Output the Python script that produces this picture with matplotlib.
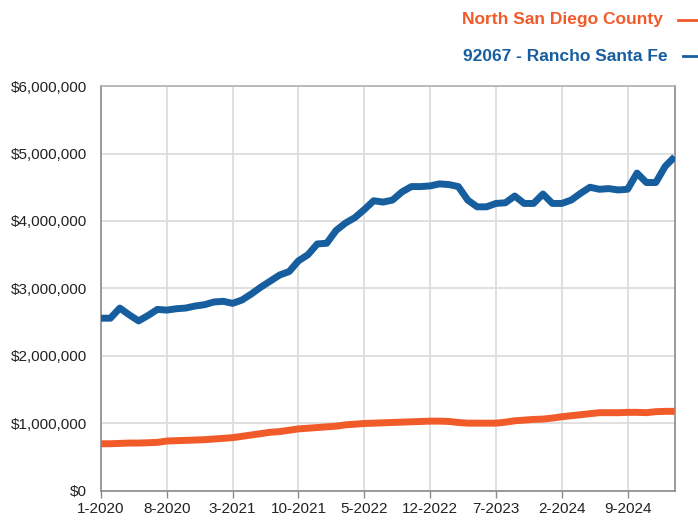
import matplotlib.pyplot as plt
from matplotlib.lines import Line2D
from matplotlib.ticker import FuncFormatter

# monthly values, 1-2020 .. 2-2025 (in $ millions)
months = list(range(62))
tick_pos = [0, 7, 14, 21, 28, 35, 42, 49, 56]
tick_labels = ["1-2020", "8-2020", "3-2021", "10-2021", "5-2022",
               "12-2022", "7-2023", "2-2024", "9-2024"]

north_county = [0.70, 0.70, 0.705, 0.71, 0.71, 0.715, 0.72, 0.74, 0.745, 0.75,
                0.755, 0.76, 0.77, 0.78, 0.79, 0.81, 0.83, 0.85, 0.87, 0.88,
                0.90, 0.92, 0.93, 0.94, 0.95, 0.96, 0.98, 0.99, 1.00, 1.005,
                1.01, 1.015, 1.02, 1.025, 1.03, 1.035, 1.035, 1.03, 1.015, 1.005,
                1.005, 1.005, 1.005, 1.02, 1.04, 1.05, 1.06, 1.065, 1.08, 1.10,
                1.115, 1.13, 1.145, 1.16, 1.16, 1.16, 1.165, 1.165, 1.16, 1.175,
                1.18, 1.18]

rancho_sf = [2.56, 2.56, 2.71, 2.61, 2.52, 2.60, 2.69, 2.68, 2.70, 2.71,
             2.74, 2.76, 2.80, 2.81, 2.78, 2.83, 2.92, 3.02, 3.11, 3.20,
             3.25, 3.41, 3.50, 3.66, 3.67, 3.86, 3.97, 4.05, 4.17, 4.30,
             4.28, 4.31, 4.43, 4.51, 4.51, 4.52, 4.55, 4.54, 4.51, 4.31,
             4.21, 4.21, 4.26, 4.27, 4.37, 4.26, 4.26, 4.40, 4.26, 4.26,
             4.31, 4.41, 4.50, 4.47, 4.48, 4.46, 4.47, 4.71, 4.57, 4.57,
             4.81, 4.95]

orange = "#f15a29"
blue = "#175e9f"

plt.rcParams['font.family'] = ['Liberation Sans', 'DejaVu Sans']

fig = plt.figure(figsize=(6.98, 5.2), dpi=100)
ax = fig.add_axes([0.1447, 0.0558, 0.8218, 0.7788])

ax.plot(months, [v * 1e6 for v in north_county], color=orange, lw=5,
        solid_capstyle='butt', solid_joinstyle='round', zorder=3)
ax.plot(months, [v * 1e6 for v in rancho_sf], color=blue, lw=5,
        solid_capstyle='butt', solid_joinstyle='round', zorder=3)

ax.set_xlim(0, 61)
ax.set_ylim(0, 6e6)
ax.set_yticks([i * 1e6 for i in range(7)])
ax.yaxis.set_major_formatter(FuncFormatter(lambda v, p: "${:,.0f}".format(v)))
ax.set_xticks(tick_pos)
ax.set_xticklabels(tick_labels)

ax.grid(True, color="#dddddd", lw=1.3, zorder=0)
for s in ax.spines.values():
    s.set_color("#8a8a8a")
    s.set_linewidth(1.2)
ax.spines['top'].set_color("#b0b0b0")

ax.tick_params(axis='y', length=0, pad=10, labelsize=11, labelcolor="#222222")
ax.tick_params(axis='x', length=5, width=1, color="#8a8a8a", pad=3,
               labelsize=11, labelcolor="#222222")

# legend at top right
fig.text(0.949, 0.962, "North San Diego County", color=orange, ha='right', va='center',
         fontsize=12.5, fontweight='bold')
fig.text(0.956, 0.892, "92067 - Rancho Santa Fe", color=blue, ha='right', va='center',
         fontsize=12.5, fontweight='bold')
fig.add_artist(Line2D([0.972, 1.0], [0.962, 0.962], color=orange, lw=2))
fig.add_artist(Line2D([0.979, 1.0], [0.892, 0.892], color=blue, lw=2))

fig.savefig("out.png", dpi=100)
